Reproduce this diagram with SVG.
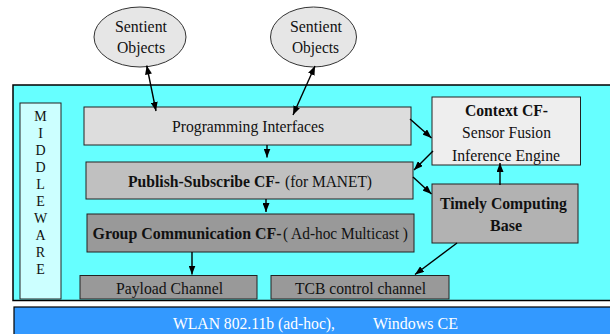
<svg xmlns="http://www.w3.org/2000/svg" width="610" height="334" viewBox="0 0 610 334">
<style>
text{font-family:'Liberation Serif','Times New Roman',Times,serif;font-size:17px;fill:#111}
.b{font-weight:bold}
.w{fill:#fff}
.m{font-size:14px;text-anchor:middle}
.box{stroke:#222;stroke-width:1}
.ell{fill:#e6e6e6;stroke:#333;stroke-width:1}
.c{stroke:#000;stroke-width:1.4;fill:none}
</style>
<defs>
<marker id="ah" viewBox="0 0 9 7" refX="9" refY="3.5" markerWidth="9" markerHeight="7" markerUnits="userSpaceOnUse" orient="auto-start-reverse">
<path d="M0,0 L9,3.5 L0,7 z" fill="#000"/>
</marker>
</defs>
<g id="background">
<rect x="13" y="85" width="600" height="215.5" fill="#66ffff" stroke="#000" stroke-width="1.5"/>
</g>
<g id="platform">
<rect x="14" y="307" width="600" height="30" fill="#3399ff" stroke="#000" stroke-width="1.2"/>
<text class="w" x="173" y="329" textLength="162" lengthAdjust="spacingAndGlyphs">WLAN 802.11b (ad-hoc),</text>
<text class="w" x="373" y="329" textLength="85" lengthAdjust="spacingAndGlyphs">Windows CE</text>
</g>
<g id="sentient1">
<ellipse class="ell" cx="140" cy="37" rx="46" ry="30"/>
<text x="115" y="32" textLength="52" lengthAdjust="spacingAndGlyphs">Sentient</text>
<text x="117" y="53" textLength="48" lengthAdjust="spacingAndGlyphs">Objects</text>
</g>
<g id="sentient2">
<ellipse class="ell" cx="313.5" cy="37" rx="43" ry="30"/>
<text x="290" y="32" textLength="52" lengthAdjust="spacingAndGlyphs">Sentient</text>
<text x="292" y="53" textLength="47" lengthAdjust="spacingAndGlyphs">Objects</text>
</g>
<g id="middleware">
<rect class="box" x="20" y="103" width="41" height="196" fill="#ccffff"/>
<text class="m" x="40.5" y="120.5">M</text>
<text class="m" x="40.5" y="137.5">I</text>
<text class="m" x="40.5" y="154.5">D</text>
<text class="m" x="40.5" y="171.5">D</text>
<text class="m" x="40.5" y="188.5">L</text>
<text class="m" x="40.5" y="205.5">E</text>
<text class="m" x="40.5" y="222.5">W</text>
<text class="m" x="40.5" y="239.5">A</text>
<text class="m" x="40.5" y="256.5">R</text>
<text class="m" x="40.5" y="273.5">E</text>
</g>
<g id="programming-interfaces">
<rect class="box" x="84" y="107" width="327" height="38" fill="#dddddd"/>
<text x="172" y="132" textLength="152" lengthAdjust="spacingAndGlyphs">Programming Interfaces</text>
</g>
<g id="publish-subscribe">
<rect class="box" x="86" y="162" width="327" height="37" fill="#c0c0c0"/>
<text class="b" x="128" y="187" textLength="152" lengthAdjust="spacingAndGlyphs">Publish-Subscribe CF-</text>
<text x="285" y="187" textLength="87" lengthAdjust="spacingAndGlyphs">(for MANET)</text>
</g>
<g id="group-communication">
<rect class="box" x="87" y="214" width="327" height="38" fill="#999999"/>
<text class="b" x="92.5" y="239" textLength="189" lengthAdjust="spacingAndGlyphs">Group Communication CF-</text>
<text x="283" y="239" textLength="125" lengthAdjust="spacingAndGlyphs">( Ad-hoc Multicast )</text>
</g>
<g id="context">
<rect class="box" x="432" y="97" width="148.5" height="68" fill="#eeeeee"/>
<text class="b" x="465" y="116" textLength="83" lengthAdjust="spacingAndGlyphs">Context CF-</text>
<text x="462" y="138" textLength="89" lengthAdjust="spacingAndGlyphs">Sensor Fusion</text>
<text x="452" y="160.5" textLength="108" lengthAdjust="spacingAndGlyphs">Inference Engine</text>
</g>
<g id="timely-computing-base">
<rect class="box" x="432" y="184" width="146" height="59" fill="#b2b2b2"/>
<text class="b" x="440" y="209" textLength="127" lengthAdjust="spacingAndGlyphs">Timely Computing</text>
<text class="b" x="490" y="231" textLength="32" lengthAdjust="spacingAndGlyphs">Base</text>
</g>
<g id="payload-channel">
<rect class="box" x="80" y="275.5" width="177" height="23.5" fill="#999999"/>
<text x="116" y="294" textLength="107" lengthAdjust="spacingAndGlyphs">Payload Channel</text>
</g>
<g id="tcb-control-channel">
<rect class="box" x="271" y="275.5" width="178" height="23.5" fill="#999999"/>
<text x="295" y="294" textLength="131" lengthAdjust="spacingAndGlyphs">TCB control channel</text>
</g>
<g id="connectors">
<line class="c" x1="146.7" y1="65.5" x2="156" y2="111" marker-start="url(#ah)" marker-end="url(#ah)"/>
<line class="c" x1="315" y1="66" x2="293" y2="115" marker-start="url(#ah)" marker-end="url(#ah)"/>
<line class="c" x1="267" y1="145" x2="267" y2="157.5" marker-end="url(#ah)"/>
<line class="c" x1="266" y1="199" x2="266" y2="212" marker-end="url(#ah)"/>
<line class="c" x1="192" y1="252" x2="192" y2="274.5" marker-end="url(#ah)"/>
<line class="c" x1="410" y1="119" x2="431.5" y2="138" marker-end="url(#ah)"/>
<line class="c" x1="433" y1="151" x2="414" y2="170" marker-end="url(#ah)"/>
<line class="c" x1="413" y1="177" x2="431.5" y2="194" marker-end="url(#ah)"/>
<line class="c" x1="500" y1="185" x2="500" y2="163" marker-end="url(#ah)"/>
<line class="c" x1="457" y1="243" x2="415" y2="274.5" marker-end="url(#ah)"/>
</g>
</svg>
